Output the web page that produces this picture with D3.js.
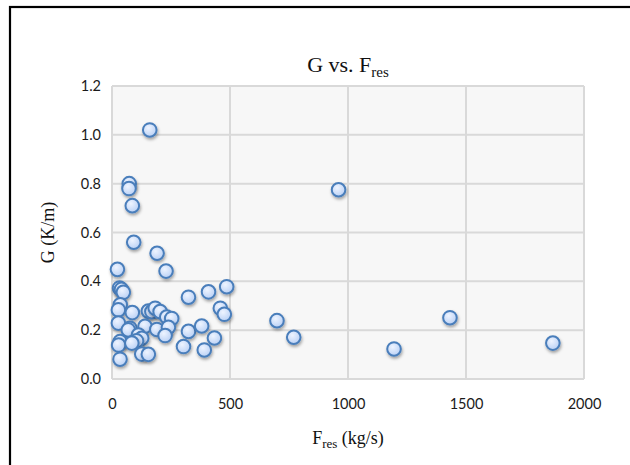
<!DOCTYPE html>
<html>
<head>
<meta charset="utf-8">
<script src="https://cdn.jsdelivr.net/npm/d3@7"></script>
<style>
  html, body { margin: 0; padding: 0; background: #fff; }
  svg { display: block; }
</style>
</head>
<body>
<script>
// Residual flow F_res (kg/s) against gradient G (K/m)
const fres = [160, 73, 72, 86, 92, 191, 23, 229, 32, 40, 48, 324, 409, 486, 459, 476, 699, 770, 960, 1195, 1432, 1868,
  35, 27, 86, 154, 169, 183, 204, 232, 253, 27, 76, 69, 140, 190, 239, 225, 324, 380, 112, 126, 104, 34, 28, 84, 303, 434, 391, 126, 154, 34];
const gVals = [1.02, 0.80, 0.78, 0.71, 0.56, 0.515, 0.449, 0.442, 0.373, 0.367, 0.355, 0.335, 0.357, 0.378, 0.29, 0.265, 0.239, 0.171, 0.775, 0.123, 0.251, 0.147,
  0.304, 0.283, 0.272, 0.278, 0.276, 0.29, 0.276, 0.254, 0.248, 0.229, 0.208, 0.201, 0.216, 0.203, 0.212, 0.178, 0.195, 0.217, 0.18, 0.167, 0.156, 0.153, 0.139, 0.147, 0.133, 0.168, 0.119, 0.102, 0.101, 0.081];
const xTicks = [0, 500, 1000, 1500, 2000];
const yTicks = [0, 0.2, 0.4, 0.6, 0.8, 1.0, 1.2];

const W = 630, H = 465;
const plot = { left: 112, right: 584, top: 86, bottom: 379 };

const svg = d3.select("body").append("svg").attr("width", W).attr("height", H);
const defs = svg.append("defs");

const grad = defs.append("radialGradient").attr("id", "dotFill")
  .attr("cx", "40%").attr("cy", "35%").attr("r", "70%");
grad.append("stop").attr("offset", "0%").attr("stop-color", "#eef4ff");
grad.append("stop").attr("offset", "100%").attr("stop-color", "#b7cff5");

const shadow = defs.append("filter").attr("id", "dotShadow")
  .attr("x", "-50%").attr("y", "-50%").attr("width", "200%").attr("height", "200%");
shadow.append("feDropShadow").attr("dx", 0.8).attr("dy", 2).attr("stdDeviation", 1.4)
  .attr("flood-color", "#000").attr("flood-opacity", 0.35);

// chart frame
svg.append("rect").attr("x", 10).attr("y", 7).attr("width", W + 20).attr("height", H + 20)
  .attr("fill", "#fff").attr("stroke", "#000").attr("stroke-width", 2.2);

const x = d3.scaleLinear().domain([0, 2000]).range([plot.left, plot.right]);
const y = d3.scaleLinear().domain([0, 1.2]).range([plot.bottom, plot.top]);

// plot area
svg.append("rect").attr("x", plot.left).attr("y", plot.top)
  .attr("width", plot.right - plot.left).attr("height", plot.bottom - plot.top)
  .attr("fill", "#f7f7f7");

const grid = svg.append("g").attr("stroke", "#d9d9d9").attr("stroke-width", 2);
grid.selectAll(".h").data(yTicks).join("line")
  .attr("x1", plot.left).attr("x2", plot.right)
  .attr("y1", d => y(d)).attr("y2", d => y(d));
grid.selectAll(".v").data(xTicks).join("line")
  .attr("y1", plot.top).attr("y2", plot.bottom)
  .attr("x1", d => x(d)).attr("x2", d => x(d));

// axes (labels only)
const tickFont = "Lato, 'Open Sans', sans-serif";
const xAxis = svg.append("g").attr("transform", `translate(0,${plot.bottom})`)
  .call(d3.axisBottom(x).tickValues(xTicks).tickSize(0).tickPadding(20).tickFormat(d3.format("d")));
const yAxis = svg.append("g").attr("transform", `translate(${plot.left},0)`)
  .call(d3.axisLeft(y).tickValues(yTicks).tickSize(0).tickPadding(11).tickFormat(d3.format(".1f")));
[xAxis, yAxis].forEach(a => {
  a.select(".domain").remove();
  a.selectAll("text").attr("font-family", tickFont).attr("font-size", 14.5).attr("fill", "#1a1a1a");
});

// points
const pts = fres.map((v, i) => ({ x: v, y: gVals[i] }));
svg.append("g").selectAll("circle").data(pts).join("circle")
  .attr("cx", d => x(d.x)).attr("cy", d => y(d.y)).attr("r", 6.8)
  .attr("fill", "url(#dotFill)").attr("stroke", "#4a7ebb").attr("stroke-width", 2)
  .attr("filter", "url(#dotShadow)");

// titles
const serif = "'Liberation Serif', 'DejaVu Serif', serif";
const cx = (plot.left + plot.right) / 2;
const title = svg.append("text").attr("x", cx).attr("y", 72).attr("text-anchor", "middle")
  .attr("font-family", serif).attr("font-size", 22).attr("fill", "#111");
title.append("tspan").text("G vs. F");
title.append("tspan").attr("font-size", 15).attr("dy", 5).text("res");

const xt = svg.append("text").attr("x", cx).attr("y", 444).attr("text-anchor", "middle")
  .attr("font-family", serif).attr("font-size", 18).attr("fill", "#111");
xt.append("tspan").text("F");
xt.append("tspan").attr("font-size", 13).attr("dy", 4).text("res");
xt.append("tspan").attr("dy", -4).text(" (kg/s)");

svg.append("text").attr("transform", `translate(54,${(plot.top + plot.bottom) / 2}) rotate(-90)`)
  .attr("text-anchor", "middle").attr("font-family", serif).attr("font-size", 18).attr("fill", "#111")
  .text("G (K/m)");
</script>
</body>
</html>
